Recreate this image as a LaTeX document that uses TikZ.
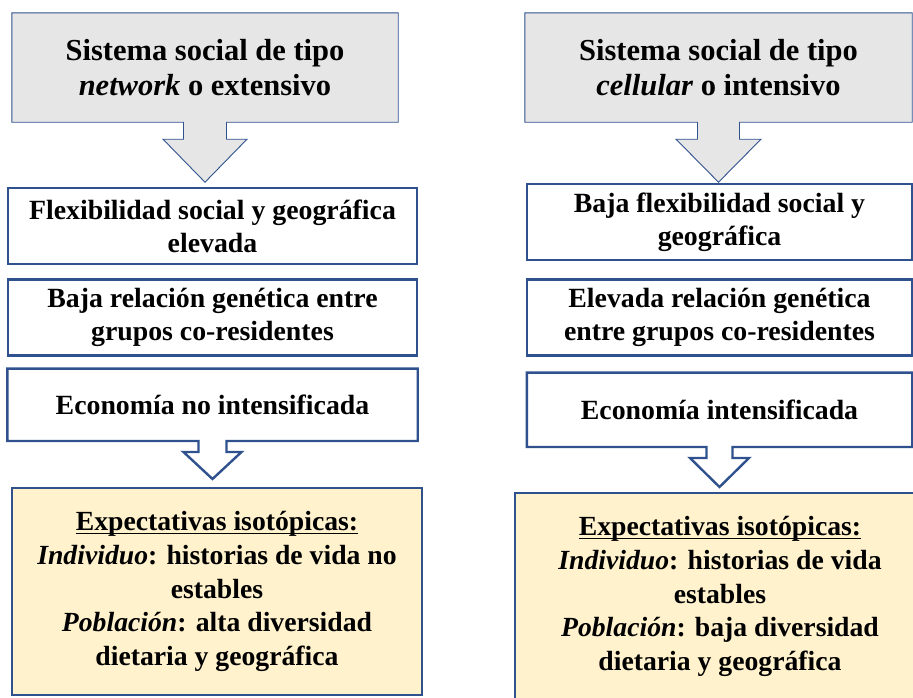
\documentclass[tikz,border=0pt]{standalone}
\usepackage{fontspec}
\setmainfont{Liberation Serif}
\usetikzlibrary{calc}
\usetikzlibrary{positioning}
\usetikzlibrary{backgrounds}
\definecolor{boxline}{RGB}{47,82,143}
\definecolor{boxgray}{RGB}{231,230,230}
\definecolor{boxyellow}{RGB}{255,242,204}
\newsavebox{\ulbox}
\newcommand{\ulined}[1]{\sbox{\ulbox}{#1}\rlap{\rule[-2.8pt]{\wd\ulbox}{1.1pt}}\usebox{\ulbox}}
% node, style, stem half width, head half width, stem length, tip length
\newcommand{\downcallout}[6]{%
	\draw[#2] (#1.north west) -- (#1.north east) -- (#1.south east)
	-- ($(#1.south)+(#3,0)$) -- ++(0,#5) -- ($(#1.south)+(#4,#5)$)
	-- ($(#1.south)+(0,#5+#6)$) -- ($(#1.south)+(-#4,#5)$)
	-- ($(#1.south)+(-#3,#5)$) -- ($(#1.south)+(-#3,0)$)
	-- (#1.south west) -- cycle;}

\begin{document}
\begin{tikzpicture}[x=1pt,y=-1pt,
		every node/.style={align=center,inner sep=0pt},
		topbox/.style={minimum width=386pt,minimum height=109pt,font=\fontsize{30.5}{35}\selectfont\bfseries},
		midbox/.style={draw=boxline,line width=2.4pt,fill=white,minimum height=76pt,font=\fontsize{27.8}{33}\selectfont\bfseries},
		econbox/.style={minimum height=72pt,font=\fontsize{27.8}{33}\selectfont\bfseries},
		expbox/.style={draw=boxline,line width=2.4pt,fill=boxyellow,minimum width=410pt,minimum height=207pt,font=\fontsize{27.7}{33.6}\selectfont\bfseries},
		topcall/.style={draw=boxline,line width=0.9pt,fill=boxgray},
		econcall/.style={draw=boxline,line width=2.4pt,fill=white}]
		\useasboundingbox (0,0) rectangle (913,697);
		
		% left column
		\node[topbox]  (sysL)  at (205,67.5)  {Sistema social de tipo\\\textit{network} o extensivo};
		\node[midbox,minimum width=409pt] (flexL) at (212.5,226) {Flexibilidad social y geográfica\\elevada};
		\node[midbox,minimum width=409pt] (genL) [below=13pt of flexL] {Baja relación genética entre\\grupos co-residentes};
		\node[econbox,minimum width=410pt] (econL) [below=12pt of genL] {Economía no intensificada};
		\node[expbox]  (expL)  at (217,591.5) {\ulined{Expectativas isotópicas:}\\\textit{Individuo}: historias de vida no\\estables\\\textit{Población}: alta diversidad\\dietaria y geográfica};
		
		% right column
		\node[topbox,minimum width=387pt] (sysR) at (718.5,67.5) {Sistema social de tipo\\\textit{cellular} o intensivo};
		\node[midbox,minimum width=385pt] (flexR) at (719.5,222) {Baja flexibilidad social y\\geográfica};
		\node[midbox,minimum width=385pt] (genR) [below=17pt of flexR] {Elevada relación genética\\entre grupos co-residentes};
		\node[econbox,minimum width=385pt,minimum height=74pt] (econR) [below=16pt of genR] {Economía intensificada};
		\node[expbox]  (expR)  at (720,596.5) {\ulined{Expectativas isotópicas:}\\\textit{Individuo}: historias de vida\\estables\\\textit{Población}: baja diversidad\\dietaria y geográfica};
		
		\begin{scope}[on background layer]
			\downcallout{sysL}{topcall}{21.5}{42}{17}{43}
			\downcallout{sysR}{topcall}{21}{42.5}{17}{43}
			\downcallout{econL}{econcall}{14}{29}{11}{27}
			\downcallout{econR}{econcall}{13}{29.5}{11}{29}
		\end{scope}
\end{tikzpicture}
\end{document}
